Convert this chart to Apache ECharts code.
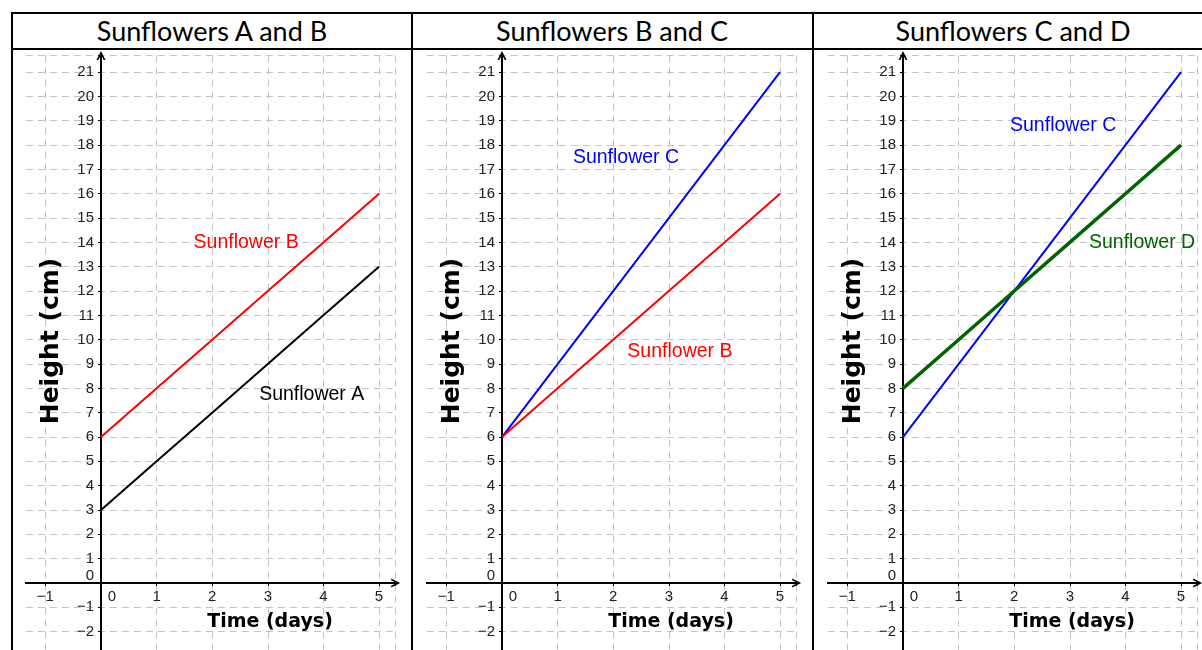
<!DOCTYPE html>
<html><head><meta charset="utf-8">
<script src="https://cdn.jsdelivr.net/npm/echarts@6/dist/echarts.min.js"></script>
<style>
html,body{margin:0;padding:0;background:#fff;width:1202px;height:650px;overflow:hidden;position:relative;}
.chart{position:absolute;left:-100px;top:0;width:1402px;height:760px;}
.rule{position:absolute;background:#000;z-index:5;}
.title{position:absolute;top:14px;height:34px;line-height:34px;text-align:center;font-family:Lato,'Open Sans',sans-serif;font-size:27px;color:#000;width:400px;z-index:6;}
</style></head><body>
<div id="c0" class="chart"></div>
<div id="c1" class="chart"></div>
<div id="c2" class="chart"></div>
<div class="rule" style="left:11px;top:12px;width:1191px;height:2px"></div>
<div class="rule" style="left:11px;top:48px;width:1191px;height:2px"></div>
<div class="rule" style="left:11px;top:12px;width:2px;height:638px"></div>
<div class="rule" style="left:411px;top:12px;width:2px;height:638px"></div>
<div class="rule" style="left:812px;top:12px;width:2px;height:638px"></div>
<div id="t0" class="title" style="left:12px"></div>
<div id="t1" class="title" style="left:412px"></div>
<div id="t2" class="title" style="left:813px"></div>
<script>
// ---- data ----
const days = [0, 1, 2, 3, 4, 5];
const sunflowerA = [3, 5, 7, 9, 11, 13];
const sunflowerB = [6, 8, 10, 12, 14, 16];
const sunflowerC = [6, 9, 12, 15, 18, 21];
const sunflowerD = [8, 10, 12, 14, 16, 18];
const panelTitles = ['Sunflowers A and B', 'Sunflowers B and C', 'Sunflowers C and D'];
const xAxisName = 'Time (days)';
const yAxisName = 'Height (cm)';

const seriesInfo = {
  A: { name: 'Sunflower A', data: sunflowerA, color: '#000000', width: 2 },
  B: { name: 'Sunflower B', data: sunflowerB, color: '#ff0000', width: 2 },
  C: { name: 'Sunflower C', data: sunflowerC, color: '#0000ff', width: 2 },
  D: { name: 'Sunflower D', data: sunflowerD, color: '#006400', width: 3.5 }
};
const panelSeries = [['A', 'B'], ['C', 'B'], ['C', 'D']];
const labelAt = [
  { A: [3.79, 7.73], B: [2.61, 14.0] },
  { C: [2.23, 17.5], B: [3.2, 9.49] },
  { C: [2.88, 18.78], D: [4.3, 13.97] }
];

// ---- layout ----
const originX = [101, 502, 903];
const originY = 583;
const ux = 55.6, uy = 24.33;
const xMin = -2, xMax = 5.3, yMin = -3, yMax = 21.68;
const OFF = 100;

const arrow = 'path://M0,10 L5,0 L10,10 L8,10 L5,4 L2,10 Z';
const FONT = 'Liberation Sans';
const minus = v => (v < 0 ? '\u2212' + (-v) : String(v));
const isInt = v => Math.abs(v - Math.round(v)) < 1e-9;

panelTitles.forEach((t, i) => { document.getElementById('t' + i).textContent = t; });

for (let i = 0; i < 3; i++) {
  const el = document.getElementById('c' + i);
  const gl = originX[i] + xMin * ux + OFF;
  const gw = (xMax - xMin) * ux;
  const gt = originY - yMax * uy;
  const gh = (yMax - yMin) * uy;
  const clipL = originX[i] - 76 + OFF, clipR = originX[i] + 303 + OFF;
  el.style.clipPath = `inset(50px ${1402 - clipR}px 110px ${clipL}px)`;

  const chart = echarts.init(el, null, { renderer: 'canvas' });
  const series = panelSeries[i].map(k => {
    const s = seriesInfo[k];
    const pos = labelAt[i][k];
    return {
      type: 'line', name: s.name,
      data: days.map((d, j) => [d, s.data[j]]),
      showSymbol: false, symbol: 'none', silent: true, animation: false,
      lineStyle: { color: s.color, width: s.width },
      z: 5,
      markPoint: {
        symbol: 'circle', symbolSize: 0, silent: true, animation: false,
        data: [{ coord: pos, value: s.name }],
        label: { show: true, position: 'inside', formatter: s.name, color: s.color, fontFamily: FONT, fontSize: 19.5 }
      }
    };
  });

  const labelFmt = v => (!isInt(v) ? '' : (v === 0 ? '{z|0}' : '{n|' + minus(v) + '}'));
  const txt = { color: '#222', fontFamily: FONT, fontSize: 15 };
  const split = { show: true, lineStyle: { color: '#c4c4c4', width: 1, type: [7, 5] } };
  chart.setOption({
    animation: false,
    grid: { left: gl, top: gt, width: gw, height: gh },
    xAxis: {
      type: 'value', min: xMin, max: xMax, interval: 1,
      position: 'bottom', offset: -(0 - yMin) * uy,
      axisLine: { show: true, onZero: false, lineStyle: { color: '#000', width: 2 }, symbol: ['none', arrow], symbolSize: [12, 9] },
      axisTick: { show: true, length: 3, lineStyle: { color: '#000', width: 1 } },
      axisLabel: Object.assign({ show: true, margin: 6, formatter: labelFmt,
        rich: { n: Object.assign({}, txt), z: Object.assign({ padding: [0, 0, 0, 22] }, txt) } }, txt),
      splitLine: split
    },
    yAxis: {
      type: 'value', min: yMin, max: yMax, interval: 1,
      position: 'left', offset: -(0 - xMin) * ux,
      axisLine: { show: true, onZero: false, lineStyle: { color: '#000', width: 2 }, symbol: ['none', arrow], symbolSize: [12, 9] },
      axisTick: { show: true, length: 3, lineStyle: { color: '#000', width: 1 } },
      axisLabel: Object.assign({ show: true, margin: 7, formatter: labelFmt,
        rich: { n: Object.assign({}, txt), z: Object.assign({ padding: [0, 0, 14, 0] }, txt) } }, txt),
      splitLine: split
    },
    graphic: [
      { type: 'text', silent: true, z: 10, x: originX[i] + 169 + OFF, y: 622,
        style: { text: xAxisName, fill: '#000', font: 'bold 19px "DejaVu Sans", sans-serif', align: 'center', verticalAlign: 'middle' } },
      { type: 'text', silent: true, z: 10, x: originX[i] - 50 + OFF, y: 341, rotation: Math.PI / 2,
        style: { text: yAxisName, fill: '#000', font: 'bold 25px "DejaVu Sans", sans-serif', align: 'center', verticalAlign: 'middle' } }
    ],
    series: series
  });
}
</script>
</body></html>
